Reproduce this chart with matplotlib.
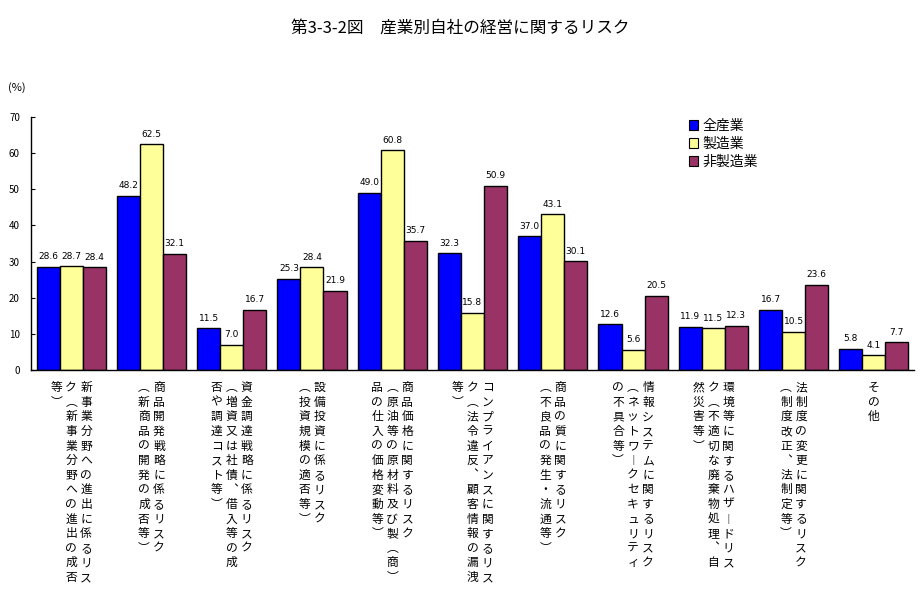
import numpy as np
import matplotlib
matplotlib.use('Agg')
import matplotlib.pyplot as plt
from matplotlib.patches import Patch

plt.rcParams['font.family'] = ['Noto Sans CJK JP', 'DejaVu Sans']

# 系列名と値 (%)
series = ['全産業', '製造業', '非製造業']
zen = [28.6, 48.2, 11.5, 25.3, 49.0, 32.3, 37.0, 12.6, 11.9, 16.7, 5.8]
seizo = [28.7, 62.5, 7.0, 28.4, 60.8, 15.8, 43.1, 5.6, 11.5, 10.5, 4.1]
hiseizo = [28.4, 32.1, 16.7, 21.9, 35.7, 50.9, 30.1, 20.5, 12.3, 23.6, 7.7]

# 縦書きラベル (右の列から順に)
labels = [
    ["新事業分野への進出に係るリス", "ク（新事業分野への進出の成否", "等）"],
    ["商品開発戦略に係るリスク", "（新商品の開発の成否等）"],
    ["資金調達戦略に係るリスク", "（増資又は社債、借入等の成", "否や調達コスト等）"],
    ["設備投資に係るリスク", "（投資規模の適否等）"],
    ["商品価格に関するリスク", "（原油等の原材料及び製（商）", "品の仕入の価格変動等）"],
    ["コンプライアンスに関するリス", "ク（法令違反、顧客情報の漏洩", "等）"],
    ["商品の質に関するリスク", "（不良品の発生・流通等）"],
    ["情報システムに関するリスク", "（ネットワークセキュリティ", "の不具合等）"],
    ["環境等に関するハザードリス", "ク（不適切な廃棄物処理、自", "然災害等）"],
    ["法制度の変更に関するリスク", "（制度改正、法制定等）"],
    ["その他"],
]

colors = ['#0000ff', '#ffff99', '#993366']

def tate(s):
    # 縦書き用の字形に置き換える
    table = {'（': '︵', '）': '︶', 'ー': '︱', '、': '︑'}
    return '\n'.join(table.get(c, c) for c in s)

fig = plt.figure(figsize=(9.24, 5.96), dpi=100)
ax = fig.add_axes([31/924, 226/596, 883/924, 253/596])

x = np.arange(len(zen))
w = 0.287
for k, vals in enumerate([zen, seizo, hiseizo]):
    pos = x + (k - 1) * w
    ax.bar(pos, vals, w, color=colors[k], edgecolor='black', linewidth=1.0, label=series[k])
    for p, v in zip(pos, vals):
        ax.annotate('%.1f' % v, (p, v), xytext=(0, 4), textcoords='offset points',
                    ha='center', va='bottom', fontsize=6.5, family='DejaVu Sans')

ax.set_xlim(-0.5, len(zen) - 0.5)
ax.set_ylim(0, 70)
ax.set_yticks(np.arange(0, 71, 10))
ax.set_xticks([])
ax.tick_params(axis='y', direction='in', length=3, labelsize=7, pad=8)
for s in ['top', 'right']:
    ax.spines[s].set_visible(False)
ax.spines['left'].set_linewidth(1)
ax.spines['bottom'].set_linewidth(1)

# カテゴリラベル
for i, cols in enumerate(labels):
    n = len(cols)
    for j, col in enumerate(cols):
        dx = ((n - 1) / 2 - j) * 10.8
        ax.annotate(tate(col), (i, 0), xycoords=('data', 'axes fraction'),
                    xytext=(dx, -8), textcoords='offset points',
                    ha='center', va='top', fontsize=8.5, linespacing=1.16)

fig.text(0.498, 1 - 28/596, '第3-3-2図　産業別自社の経営に関するリスク',
         ha='center', va='center', fontsize=12)
fig.text(8/924, 1 - 88/596, '(%)', ha='left', va='center', fontsize=8)

handles = [Patch(facecolor=c, edgecolor='black', linewidth=0.8) for c in colors]
fig.legend(handles, series, loc='upper left', bbox_to_anchor=(683/924, 1 - 113/596),
           frameon=False, fontsize=10, handlelength=0.7, handleheight=0.7,
           handletextpad=0.3, labelspacing=0.3, borderaxespad=0)

fig.savefig('out.png', dpi=100)
